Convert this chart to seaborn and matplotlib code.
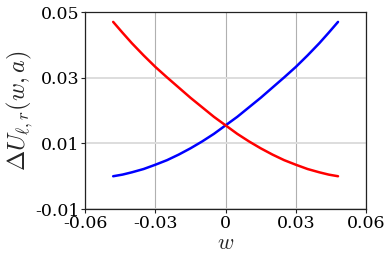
import pandas as pd
import matplotlib
matplotlib.use("Agg")
import matplotlib.pyplot as plt
import seaborn as sns

# values
w_vals = [-0.048, -0.044, -0.04, -0.035, -0.03, -0.025, -0.02, -0.015, -0.01, -0.005, 0.0,
          0.005, 0.01, 0.015, 0.02, 0.025, 0.03, 0.035, 0.04, 0.044, 0.048]
du_left = [0.0000, 0.0005, 0.0012, 0.0022, 0.0035, 0.0049, 0.0066, 0.0085, 0.0106, 0.0129, 0.0155,
           0.0181, 0.0210, 0.0239, 0.0270, 0.0301, 0.0333, 0.0368, 0.0405, 0.0437, 0.0470]
du_right = du_left[::-1]

x_ticks = [-0.06, -0.03, 0, 0.03, 0.06]
x_labels = ["-0.06", "-0.03", "0", "0.03", "0.06"]
y_ticks = [-0.01, 0.01, 0.03, 0.05]
y_labels = ["-0.01", "0.01", "0.03", "0.05"]

df = pd.DataFrame({"w": w_vals * 2,
                   "du": du_left + du_right,
                   "side": ["l"] * len(w_vals) + ["r"] * len(w_vals)})

sns.set_style("ticks")
plt.rcParams["font.family"] = ["DejaVu Serif"]
plt.rcParams["mathtext.fontset"] = "cm"

fig = plt.figure(figsize=(3.92, 2.62), dpi=100)
ax = fig.add_axes([0.217, 0.202, 0.717, 0.752])

sns.lineplot(data=df, x="w", y="du", hue="side", palette={"l": "#0000ff", "r": "#ff0000"},
             linewidth=1.8, legend=False, ax=ax, zorder=3)

ax.set_xlim(-0.06, 0.06)
ax.set_ylim(-0.01, 0.05)
ax.set_xticks(x_ticks)
ax.set_xticklabels(x_labels)
ax.set_yticks(y_ticks)
ax.set_yticklabels(y_labels)
ax.tick_params(labelsize=12.5, length=3, width=0.8, pad=1, colors="#222222", labelcolor="black")

ax.xaxis.grid(True, color="#b0b0b0", linewidth=0.8)
ax.yaxis.grid(True, color="#dddddd", linewidth=1.4)
for s in ax.spines.values():
    s.set_visible(True)
    s.set_color("#222222")
    s.set_linewidth(0.9)

ax.set_xlabel(r"$w$", fontsize=16, labelpad=0)
ax.set_ylabel(r"$\Delta U_{\ell,r}(w,a)$", fontsize=17.5, labelpad=0)

fig.savefig("out.png", dpi=100)
